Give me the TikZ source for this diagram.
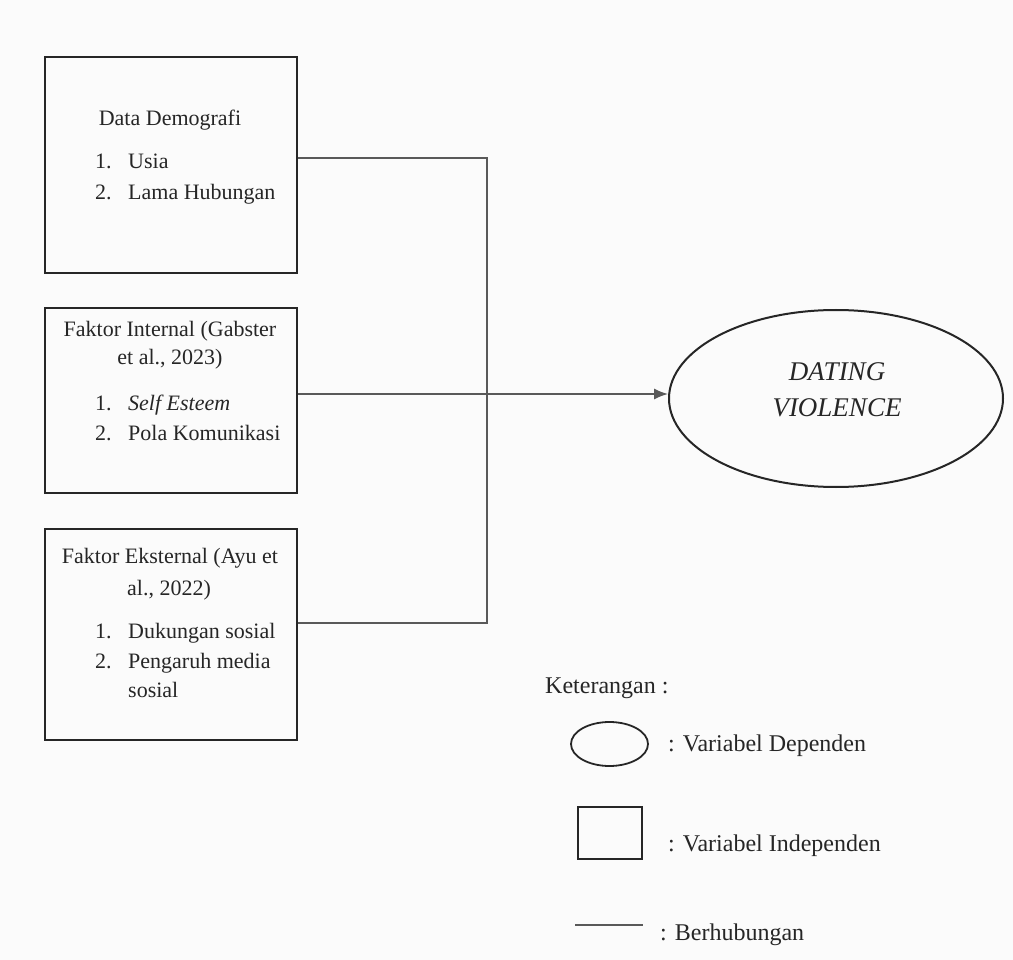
\documentclass[tikz,border=0pt]{standalone}
\usepackage{fontspec}
\setmainfont{Liberation Serif}
\usetikzlibrary{arrows.meta,shapes.geometric}
\begin{document}
\begin{tikzpicture}[x=1pt,y=-1pt,
  box/.style={draw=black!85,line width=2pt,minimum width=252pt,minimum height=#1,inner sep=0pt,anchor=north west},
  txt/.style={font=\fontsize{22}{26}\selectfont,text=black!85,inner sep=0pt,anchor=base},
  itm/.style={txt,anchor=base west},
  etxt/.style={font=\fontsize{27}{32}\selectfont\itshape,text=black!85,inner sep=0pt,anchor=base},
  leg/.style={font=\fontsize{24}{28}\selectfont,text=black!85,inner sep=0pt,anchor=base west},
  conn/.style={draw=black!65,line width=1.5pt},
  dvshape/.style={draw=black!85,line width=2pt,ellipse,inner sep=0pt}]
\fill[gray!3] (0,0) rectangle (1013,960);
\useasboundingbox (0,0) rectangle (1013,960);
% boxes
\node[box=216pt] (box1) at (44,56) {};
\node[box=185pt] (box2) at (44,307) {};
\node[box=211pt] (box3) at (44,528) {};
% box 1 text
\node[txt] (t1h) at (170,126) {Data Demografi};
\node[itm] (t1n1) at (95,169) {1.};
\node[itm] (t1a) at (128,169) {Usia};
\node[itm] (t1n2) at (95,200) {2.};
\node[itm] (t1b) at (128,200) {Lama Hubungan};
% box 2 text
\node[txt] (t2h1) at (170,337) {Faktor Internal (Gabster};
\node[txt] (t2h2) at (170,365) {et al., 2023)};
\node[itm] (t2n1) at (95,410) {1.};
\node[itm] (t2a) at (128,410) {\itshape Self Esteem};
\node[itm] (t2n2) at (95,440) {2.};
\node[itm] (t2b) at (128,440) {Pola Komunikasi};
% box 3 text
\node[txt] (t3h1) at (170,563) {Faktor Eksternal (Ayu et};
\node[txt] (t3h2) at (169,595) {al., 2022)};
\node[itm] (t3n1) at (95,638) {1.};
\node[itm] (t3a) at (128,638) {Dukungan sosial};
\node[itm] (t3n2) at (95,668) {2.};
\node[itm] (t3b) at (128,668) {Pengaruh media};
\node[itm] (t3c) at (128,697) {sosial};
% dependent variable
\node[dvshape,minimum width=334pt,minimum height=177pt] (dv) at (836,398.5) {};
\node[etxt] (dv1) at (837,381) {DATING};
\node[etxt] (dv2) at (837,416) {VIOLENCE};
% connectors
\coordinate (j1) at (487,158);
\coordinate (jm) at (487,394);
\coordinate (j3) at (487,623);
\draw[conn] (box1.east |- j1) -- (j1) -- (j3) -- (box3.east |- j3);
\draw[conn,-{Latex[length=14pt,width=11pt]}] (box2.east |- jm) -- (dv.west |- jm);
% legend
\node[leg] (ket) at (545,693) {Keterangan :};
\node[dvshape,line width=1.8pt,minimum width=77pt,minimum height=44pt] (lgE) at (609.5,744) {};
\node[leg] (lgEt) at (668,751) {: Variabel Dependen};
\node[draw=black!85,line width=1.8pt,minimum width=64pt,minimum height=52pt,inner sep=0pt] (lgR) at (610,833) {};
\node[leg] (lgRt) at (668,851) {: Variabel Independen};
\coordinate (lgL1) at (575,925);
\coordinate (lgL2) at (643,925);
\draw[conn,line width=1.2pt] (lgL1) -- (lgL2);
\node[leg] (lgLt) at (660,940) {: Berhubungan};
\end{tikzpicture}
\end{document}
